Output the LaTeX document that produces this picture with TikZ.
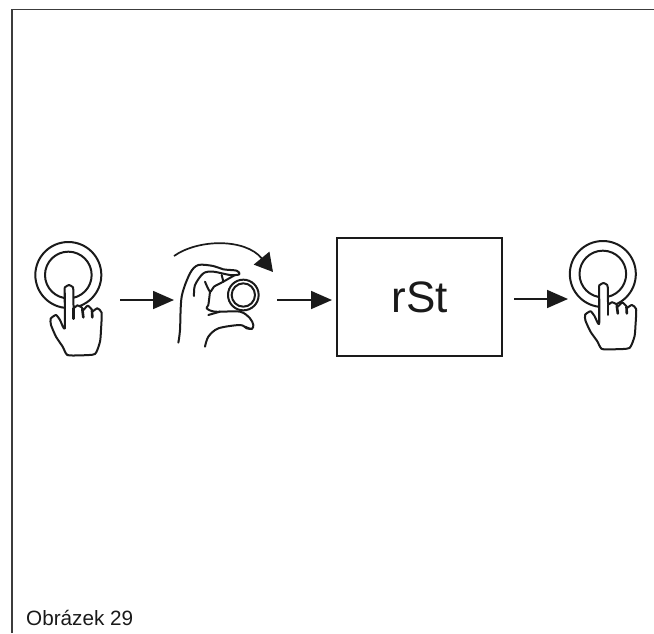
\documentclass[tikz,border=0pt]{standalone}
\usepackage{fontspec}
\setmainfont{Liberation Sans}
\usetikzlibrary{arrows.meta}
\definecolor{ink}{HTML}{1A1A1A}
\tikzset{
  ink line/.style={draw=ink,line width=2pt,line cap=round,line join=round},
  frame line/.style={draw=ink!85,line width=1.1pt},
  flow/.style={draw=ink,line width=1.7pt,-{Triangle[length=21pt,width=18pt,fill=ink]}},
  rings/.pic={
    \draw[ink line] (145,135) circle[radius=99];
    \draw[ink line] (145,135) circle[radius=70];
  },
  finger/.pic={
    \filldraw[ink line,fill=white] plot[smooth cycle,tension=0.35] coordinates {
      (134,180) (136,171) (147,165) (158,171) (160,180) (161,232) (172,226) (185,232)
      (190,240) (203,227) (215,238) (218,244) (232,235) (245,248) (243,300) (240,335)
      (225,372) (180,376) (142,375) (128,350) (108,320) (93,285) (92,266) (108,255) (120,270) (134,295)};
    \draw[ink line] (134,190) -- (134,295);
    \draw[ink line,line width=2.6pt] (160,235) -- (160,266);
    \draw[ink line,line width=2.6pt] (187,238) -- (190,262);
    \draw[ink line,line width=2.6pt] (216,242) -- (217,262);
  }
}
\begin{document}
\begin{tikzpicture}[x=1pt,y=1pt]
\useasboundingbox (0,0) rectangle (654,-633);
\fill[white] (0,0) rectangle (654,-633);
% frame
\coordinate (fb) at (12,-633);
\coordinate (fc) at (12,-9.5);
\coordinate (fe) at (654,-9.5);
\draw[frame line] (fb) -- (fc) -- (fe);
% buttons
\pic[xscale=1/3,yscale=-1/3] (ringA) at (20,-230) {rings};
\pic[xscale=1/3,yscale=-1/3] (btnA) at (20,-230) {finger};
\pic[xscale=1/3,yscale=-1/3] (ringB) at (554.5,-229) {rings};
\pic[xscale=1/3,yscale=-0.314] (btnB) at (554.5,-231.2) {finger};
% turning hand, zoom coordinates
\begin{scope}[shift={(140,-230)},xscale=1/3,yscale=-1/3]
  \draw[ink line,fill=white,line width=2pt] (310,195) circle[radius=46];
  \draw[ink line,line width=2pt] (310,195) circle[radius=35];
  \draw[ink line] plot[smooth,tension=0.5] coordinates {
    (115,338) (120,300) (125,200) (150,130) (175,105) (220,108) (250,118) (290,122) (298,133) (270,135) (220,125) (190,130) (165,165) (162,198)};
  \draw[ink line] plot[smooth,tension=0.5] coordinates {(195,155) (210,185) (222,170) (250,155) (285,135)};
  \draw[ink line] plot[smooth,tension=0.5] coordinates {(245,135) (250,155)};
  \draw[ink line] plot[smooth,tension=0.5] coordinates {(210,185) (205,225) (200,235) (225,245) (300,245) (330,265) (340,285) (335,297) (315,290)};
  \draw[ink line] plot[smooth,tension=0.5] coordinates {(205,255) (240,245)};
  \draw[ink line] plot[smooth,tension=0.5] coordinates {(195,350) (205,320) (235,295) (300,285) (320,295) (335,297)};
\end{scope}
% turning arrow
\coordinate (arcS) at (174,-256);
\coordinate (arcE) at (273,-272);
\draw[draw=ink,line width=1.7pt,-{Triangle[length=18pt,width=20pt,fill=ink]}] (arcS) .. controls (198,-239) and (245,-238) .. (arcE);
% box
\node[draw=ink,line width=1.8pt,minimum width=165pt,minimum height=118pt,inner sep=0pt,font=\fontsize{44}{44}\selectfont,text=ink] (box) at (419.5,-297) {rSt};
% flow arrows
\coordinate (a1s) at (120,-300);
\coordinate (a1e) at (174,-300);
\coordinate (a2s) at (277,-300);
\coordinate (a2e) at (332,-300);
\coordinate (a3s) at (514,-299);
\coordinate (a3e) at (568,-299);
\draw[flow] (a1s) -- (a1e);
\draw[flow] (a2s) -- (a2e);
\draw[flow] (a3s) -- (a3e);
\node[anchor=base west,inner sep=0pt,font=\fontsize{20.7}{20.7}\selectfont,text=ink] (cap) at (26,-625) {Obrázek 29};
\end{tikzpicture}
\end{document}
